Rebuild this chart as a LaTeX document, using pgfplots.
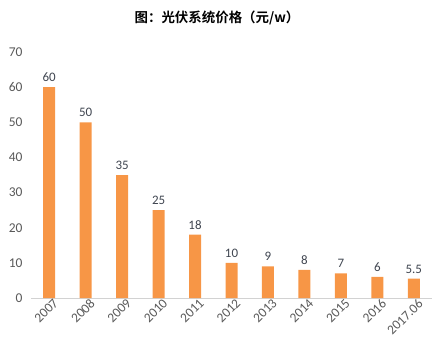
\documentclass[border=0pt]{standalone}
\usepackage{pgfplots}
\pgfplotsset{compat=1.18}
\usepackage{fontspec}
\setmainfont{Carlito}
\newfontfamily\cjk{Noto Sans CJK SC}[BoldFont={Noto Sans CJK SC Bold}]
\definecolor{barorange}{HTML}{F79646}
\definecolor{ticktxt}{HTML}{595959}
\definecolor{labtxt}{HTML}{3F4550}
\begin{document}
\begin{tikzpicture}
\begin{axis}[
  scale only axis,
  width=401bp, height=246bp,
  xmin=-0.5, xmax=10.5,
  ymin=0, ymax=70,
  ytick={0,10,...,70},
  xtick={0,...,10},
  xticklabels={2007,2008,2009,2010,2011,2012,2013,2014,2015,2016,2017.06},
  axis lines*=left,
  y axis line style={draw=none},
  x axis line style={draw=gray!35},
  major tick length=0pt,
  ybar, bar width=12bp,
  /pgf/number format/assume math mode=true,
  tick label style={font=\fontsize{13.5}{15}\selectfont, text=ticktxt},
  yticklabel style={xshift=-5bp},
  xticklabel style={rotate=45, anchor=north east, xshift=6bp, yshift=1bp},
  nodes near coords,
  every node near coord/.append style={font=\fontsize{13}{15}\selectfont, text=labtxt, yshift=2bp},
  point meta=explicit symbolic,
  clip=false,
]
\addplot[fill=barorange, draw=none] table[x=x, y=y, meta=m] {
x y m
0 60 60
1 50 50
2 35 35
3 25 25
4 18 18
5 10 10
6 9 9
7 8 8
8 7 7
9 6 6
10 5.5 5.5
};
\end{axis}
\node[font=\cjk\bfseries\fontsize{13.5}{15}\selectfont] at (186bp,280bp) {图：光伏系统价格（元/w）};
\path[use as bounding box] (-31bp,-54bp) rectangle (409bp,298bp);
\end{tikzpicture}
\end{document}
